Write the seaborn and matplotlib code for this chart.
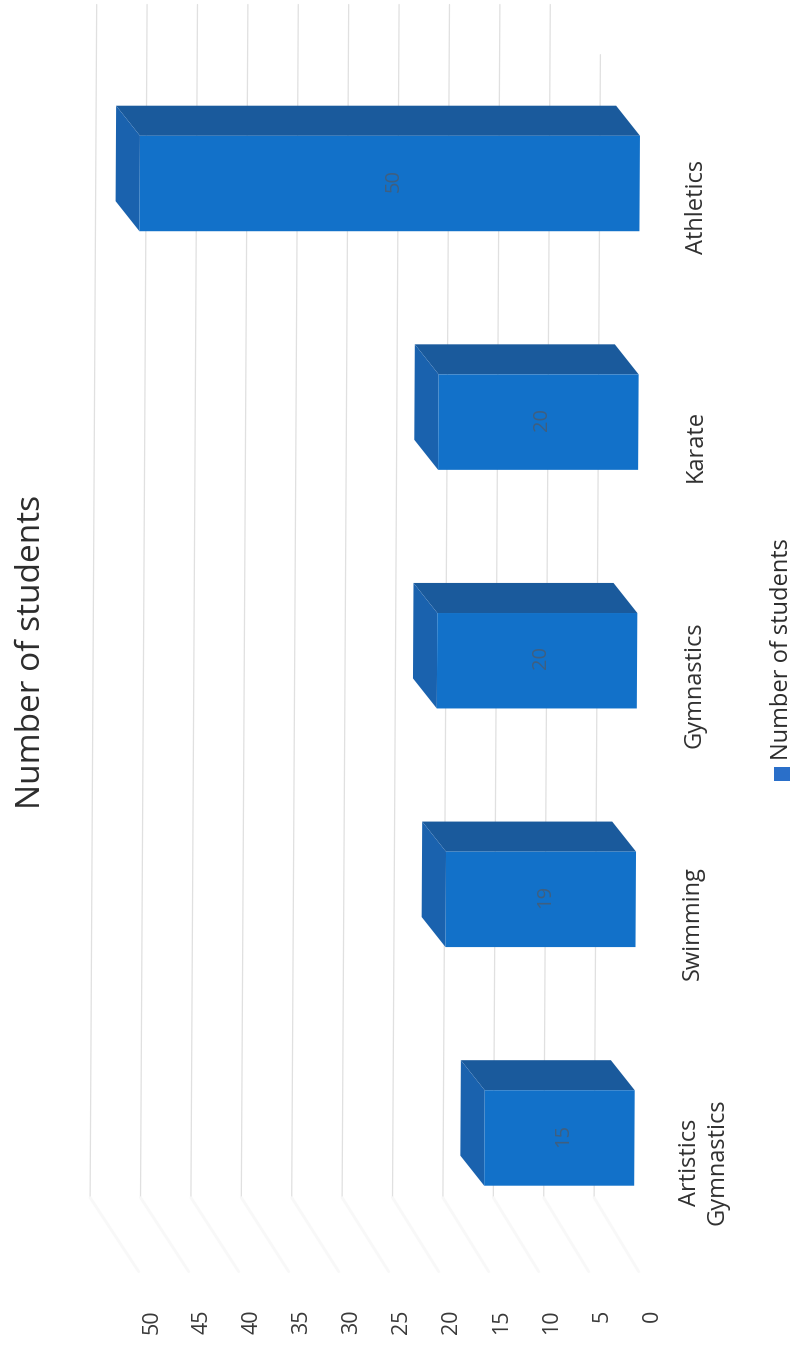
import pandas as pd
import numpy as np
import matplotlib
matplotlib.use("Agg")
import matplotlib.pyplot as plt
from matplotlib.patches import Polygon, Rectangle
from matplotlib.transforms import Affine2D
import seaborn as sns

# values (top to bottom on the page)
sports = ["Athletics", "Karate", "Gymnastics", "Swimming", "Artistics\nGymnastics"]
students = [50, 20, 20, 19, 15]
value_ticks = [0, 5, 10, 15, 20, 25, 30, 35, 40, 45, 50]
series_name = "Number of students"

W, H = 798, 1348
sns.set_style("white")
plt.rcParams["font.family"] = ["Open Sans", "DejaVu Sans"]

fig = plt.figure(figsize=(W / 100, H / 100), dpi=100)
ax = fig.add_axes([0, (H - 1300) / H, 680 / W, 1300 / H])
ax.patch.set_alpha(0)

df = pd.DataFrame({"sport": sports, "students": students})
sns.barplot(data=df, x="students", y="sport", orient="h", color="#1271c9",
            saturation=1, width=0.40, ax=ax, zorder=4, linewidth=0, edgecolor="none")

# the page was scanned a bit crooked, so everything leans a few pixels
lean = 0.0055
skew = Affine2D(np.array([[1, lean, -lean * H / 2], [0, 1, 0], [0, 0, 1]]))
tr = ax.transData + skew

ax.set_xlim(65.2, -2.8)
ax.set_ylim(4.679, -0.769)

# depth of the fake 3D, in axis units
front_shift = 1.5
wall_shift = 5.5
dx, dy = 2.4, 0.126

# back wall gridlines and faint floor lines
for v in value_ticks:
    wall = v * 1.008 + wall_shift
    top = -0.54 if v == 0 else -0.75
    ax.plot([wall, wall], [top, 4.25], color="#e0e0e0", lw=0.9, transform=tr, zorder=1)
    ax.plot([wall, v + 1.0], [4.25, 4.56], color="#f8f8f8", lw=2, transform=tr, zorder=1)

# bars: move the front face forward, then add top and end faces
for i, bar in enumerate(list(ax.patches)):
    bar.set_x(bar.get_x() + front_shift)
    bar.set_transform(tr)
    x0 = bar.get_x()
    x1 = x0 + bar.get_width()
    yt = bar.get_y()
    yb = yt + bar.get_height()
    ax.add_patch(Polygon([(x0, yt), (x1, yt), (x1 + dx, yt - dy), (x0 + dx, yt - dy)],
                         closed=True, fc="#1a5a9c", ec="none", transform=tr, zorder=3))
    ax.add_patch(Polygon([(x1, yt), (x1, yb), (x1 + dx, yb - dy), (x1 + dx, yt - dy)],
                         closed=True, fc="#1a62ae", ec="none", transform=tr, zorder=3))
    ax.text((x0 + x1) / 2 - 0.4, (yt + yb) / 2 - 0.012, str(students[i]), rotation=90, ha="center",
            va="center", fontsize=14.5, color="#3f5f80", transform=tr, zorder=5)

# value axis
ax.set_xticks(value_ticks)
ax.set_xticklabels([str(v) for v in value_ticks], rotation=90, fontsize=15.5, color="#383838")
ax.tick_params(axis="x", length=0, pad=7)

# category axis on the right hand side
ax.yaxis.tick_right()
ax.set_yticks(np.arange(len(sports)) + 0.10)
ax.set_yticklabels(sports, rotation=90, fontsize=17, color="#303030", va="center", ma="center")
ax.tick_params(axis="y", length=0)
for tick, pad_px in zip(ax.yaxis.get_major_ticks(), [5, 4, 2, 1, -2]):
    tick.set_pad(pad_px * 0.72)

ax.set_xlabel("")
ax.set_ylabel("")
sns.despine(ax=ax, left=True, bottom=True, right=True, top=True)

# title and legend sit outside the plot area
fig.text(32 / W, 1 - 652 / H, series_name, rotation=90, ha="center", va="center",
         fontsize=24, color="#2c2c2c")
fig.patches.append(Rectangle((774 / W, 1 - 781 / H), 16 / W, 14 / H, fc="#2a6fc9", ec="none",
                             transform=fig.transFigure, figure=fig))
fig.text(782 / W, 1 - 760 / H, series_name, rotation=90, ha="center", va="bottom",
         fontsize=17, color="#2c2c2c")

fig.savefig("out.png", dpi=100)
